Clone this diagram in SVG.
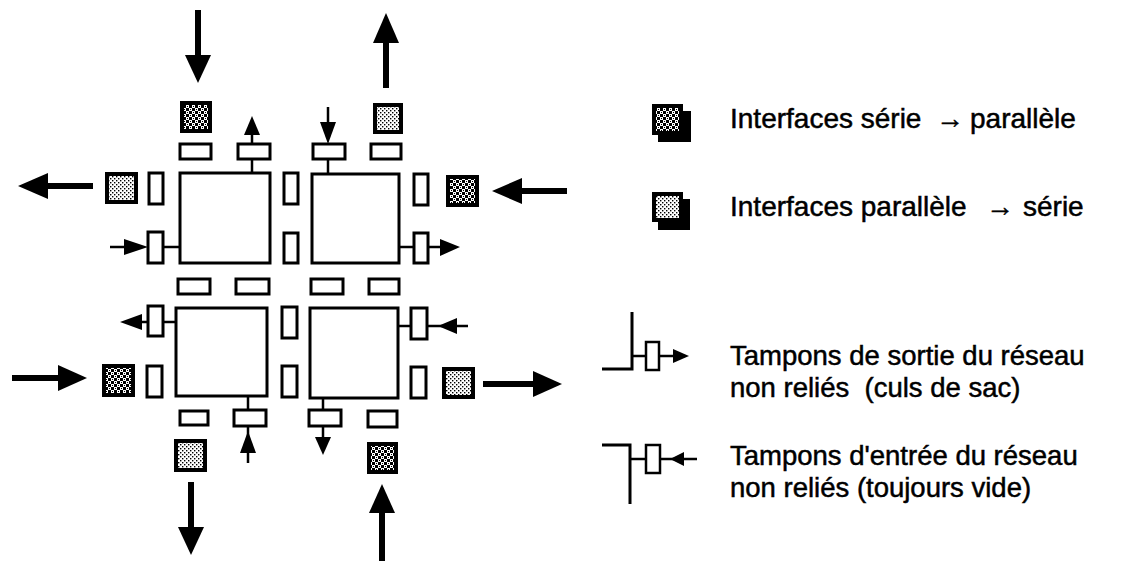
<svg xmlns="http://www.w3.org/2000/svg" width="1125" height="561" viewBox="0 0 1125 561">
<defs>
<pattern id="dark" width="6" height="6" patternUnits="userSpaceOnUse">
<rect width="6" height="6" fill="#fff"/>
<rect width="3" height="3" fill="#000"/>
<rect x="3" y="3" width="3" height="3" fill="#000"/>
<rect x="1" y="4" width="1" height="1" fill="#000"/>
<rect x="4" y="1" width="1" height="1" fill="#000"/>
</pattern>
<pattern id="light" width="4" height="4" patternUnits="userSpaceOnUse">
<rect width="4" height="4" fill="#fff"/>
<rect x="0" y="0" width="1.4" height="1.4" fill="#000"/>
<rect x="2" y="2" width="1.4" height="1.4" fill="#000"/>
</pattern>
</defs>
<style>
.node{fill:#fff;stroke:#000;stroke-width:3}
.buf{fill:#fff;stroke:#000;stroke-width:3}
.sp{fill:url(#dark);stroke:#000;stroke-width:4}
.ps{fill:url(#light);stroke:#000;stroke-width:4}
.shaft{stroke:#000;stroke-width:6;fill:none}
.stem{stroke:#000;stroke-width:2.5;fill:none}
.head{fill:#000;stroke:none}
.txt{font-family:"Liberation Sans",Arial,Helvetica,sans-serif;font-size:28px;fill:#000;stroke:#000;stroke-width:0.5}
.txt2{font-family:"Liberation Sans",Arial,Helvetica,sans-serif;font-size:27.5px;fill:#000;stroke:#000;stroke-width:0.5}
.arr{font-weight:bold}
</style>
<rect width="1125" height="561" fill="#fff"/>

<g id="node-tl"><rect class="node" x="180" y="173" width="90" height="90"/></g>
<g id="node-tr"><rect class="node" x="312" y="174" width="87" height="89"/></g>
<g id="node-bl"><rect class="node" x="176" y="308" width="91" height="88"/></g>
<g id="node-br"><rect class="node" x="310" y="308" width="88" height="90"/></g>

<g id="buffers-top">
<rect class="buf" x="180" y="144" width="31" height="15"/>
<rect class="buf" x="238" y="144" width="32" height="15"/>
<rect class="buf" x="313" y="144" width="32" height="15"/>
<rect class="buf" x="371" y="144" width="30" height="15"/>
</g>
<g id="buffers-middle-row">
<rect class="buf" x="178" y="279" width="32" height="15"/>
<rect class="buf" x="236" y="279" width="33" height="15"/>
<rect class="buf" x="311" y="279" width="32" height="15"/>
<rect class="buf" x="369" y="279" width="30" height="15"/>
</g>
<g id="buffers-bottom">
<rect class="buf" x="180" y="411" width="28" height="14"/>
<rect class="buf" x="234" y="410" width="32" height="16"/>
<rect class="buf" x="309" y="410" width="32" height="16"/>
<rect class="buf" x="368" y="411" width="29" height="16"/>
</g>
<g id="buffers-left">
<rect class="buf" x="149" y="173" width="14" height="31"/>
<rect class="buf" x="148" y="232" width="15" height="31"/>
<rect class="buf" x="148" y="306" width="15" height="30"/>
<rect class="buf" x="147" y="366" width="15" height="31"/>
</g>
<g id="buffers-middle-col">
<rect class="buf" x="284" y="173" width="14" height="31"/>
<rect class="buf" x="284" y="233" width="14" height="30"/>
<rect class="buf" x="282" y="307" width="15" height="31"/>
<rect class="buf" x="282" y="366" width="15" height="31"/>
</g>
<g id="buffers-right">
<rect class="buf" x="414" y="174" width="14" height="31"/>
<rect class="buf" x="414" y="233" width="14" height="30"/>
<rect class="buf" x="411" y="308" width="16" height="31"/>
<rect class="buf" x="411" y="367" width="15" height="31"/>
</g>

<g id="if-top-in"><rect class="sp" x="182" y="103" width="28" height="28"/></g>
<g id="if-top-out"><rect class="ps" x="375" y="105" width="26" height="27"/></g>
<g id="if-left-out"><rect class="ps" x="107" y="174" width="29" height="28"/></g>
<g id="if-right-in"><rect class="sp" x="448" y="177" width="29" height="28"/></g>
<g id="if-left-in"><rect class="sp" x="104" y="366" width="29" height="29"/></g>
<g id="if-bottom-out"><rect class="ps" x="176" y="441" width="29" height="29"/></g>
<g id="if-right-out"><rect class="ps" x="444" y="369" width="29" height="28"/></g>
<g id="if-bottom-in"><rect class="sp" x="369" y="444" width="27" height="28"/></g>

<g id="connectors">
<line class="shaft" x1="198" y1="10" x2="198" y2="57"/><polygon class="head" points="185,55 211,55 198,83"/>
<line class="shaft" x1="386" y1="88" x2="386" y2="41"/><polygon class="head" points="373,43 399,43 386,13"/>
<line class="shaft" x1="93" y1="186" x2="46" y2="186"/><polygon class="head" points="48,173 48,199 18,186"/>
<line class="shaft" x1="567" y1="191" x2="520" y2="191"/><polygon class="head" points="522,178 522,204 492,191"/>
<line class="shaft" x1="12" y1="378" x2="60" y2="378"/><polygon class="head" points="58,365 58,391 87,378"/>
<line class="shaft" x1="191" y1="482" x2="191" y2="529"/><polygon class="head" points="178,527 204,527 191,555"/>
<line class="shaft" x1="483" y1="384" x2="535" y2="384"/><polygon class="head" points="533,371 533,397 562,384"/>
<line class="shaft" x1="382" y1="561" x2="382" y2="511"/><polygon class="head" points="369,513 395,513 382,484"/>

<line class="stem" x1="252" y1="173" x2="252" y2="159"/><line class="stem" x1="252" y1="144" x2="252" y2="133"/><polygon class="head" points="244,135 260,135 252,116"/>
<line class="stem" x1="328" y1="107" x2="328" y2="124"/><polygon class="head" points="320,122 336,122 328,144"/><line class="stem" x1="328" y1="159" x2="328" y2="174"/>
<line class="stem" x1="110" y1="247" x2="126" y2="247"/><polygon class="head" points="124,239 124,255 148,247"/><line class="stem" x1="163" y1="247" x2="180" y2="247"/>
<line class="stem" x1="399" y1="247" x2="414" y2="247"/><line class="stem" x1="428" y1="247" x2="442" y2="247"/><polygon class="head" points="440,239 440,256 460,247"/>
<line class="stem" x1="176" y1="322" x2="163" y2="322"/><line class="stem" x1="148" y1="322" x2="140" y2="322"/><polygon class="head" points="142,314 142,330 120,322"/>
<line class="stem" x1="248" y1="396" x2="248" y2="410"/><line class="stem" x1="248" y1="463" x2="248" y2="426"/><polygon class="head" points="240,453 256,453 248,431"/>
<line class="stem" x1="398" y1="326" x2="411" y2="326"/><line class="stem" x1="427" y1="326" x2="468" y2="326"/><polygon class="head" points="457,318 457,334 438,326"/>
<line class="stem" x1="323" y1="398" x2="323" y2="410"/><line class="stem" x1="323" y1="426" x2="323" y2="439"/><polygon class="head" points="315,437 331,437 323,455"/>
</g>

<g id="legend-sp">
<rect x="658" y="111" width="33" height="31" fill="#000"/>
<rect class="sp" x="654" y="106" width="27" height="27"/>
<text class="txt" y="128"><tspan x="730">Interfaces série</tspan><tspan class="arr" x="936">→</tspan><tspan x="970">parallèle</tspan></text>
</g>
<g id="legend-ps">
<rect x="658" y="199" width="32" height="31" fill="#000"/>
<rect class="ps" x="654" y="194" width="27" height="26"/>
<text class="txt" y="216"><tspan x="730">Interfaces parallèle</tspan><tspan class="arr" x="986">→</tspan><tspan x="1023">série</tspan></text>
</g>
<g id="legend-out">
<polyline class="stem" points="602,369 632,369 632,312" style="stroke-width:3"/>
<line class="stem" x1="632" y1="356" x2="646" y2="356"/>
<rect class="buf" x="646" y="342" width="13" height="28" style="stroke-width:2.5"/>
<line class="stem" x1="659" y1="356" x2="675" y2="356"/>
<polygon class="head" points="673,349 689,356 673,363"/>
<text class="txt2" x="730" y="365">Tampons de sortie du réseau</text>
<text class="txt2" x="730" y="397" xml:space="preserve">non reliés  (culs de sac)</text>
</g>
<g id="legend-in">
<polyline class="stem" points="602,445 630,445 630,504" style="stroke-width:3"/>
<line class="stem" x1="630" y1="459" x2="646" y2="459"/>
<rect class="buf" x="646" y="445" width="14" height="28" style="stroke-width:2.5"/>
<line class="stem" x1="660" y1="459" x2="697" y2="459"/>
<polygon class="head" points="670,459 684,452 684,466"/>
<text class="txt2" x="730" y="465">Tampons d'entrée du réseau</text>
<text class="txt2" x="730" y="497">non reliés (toujours vide)</text>
</g>
</svg>
